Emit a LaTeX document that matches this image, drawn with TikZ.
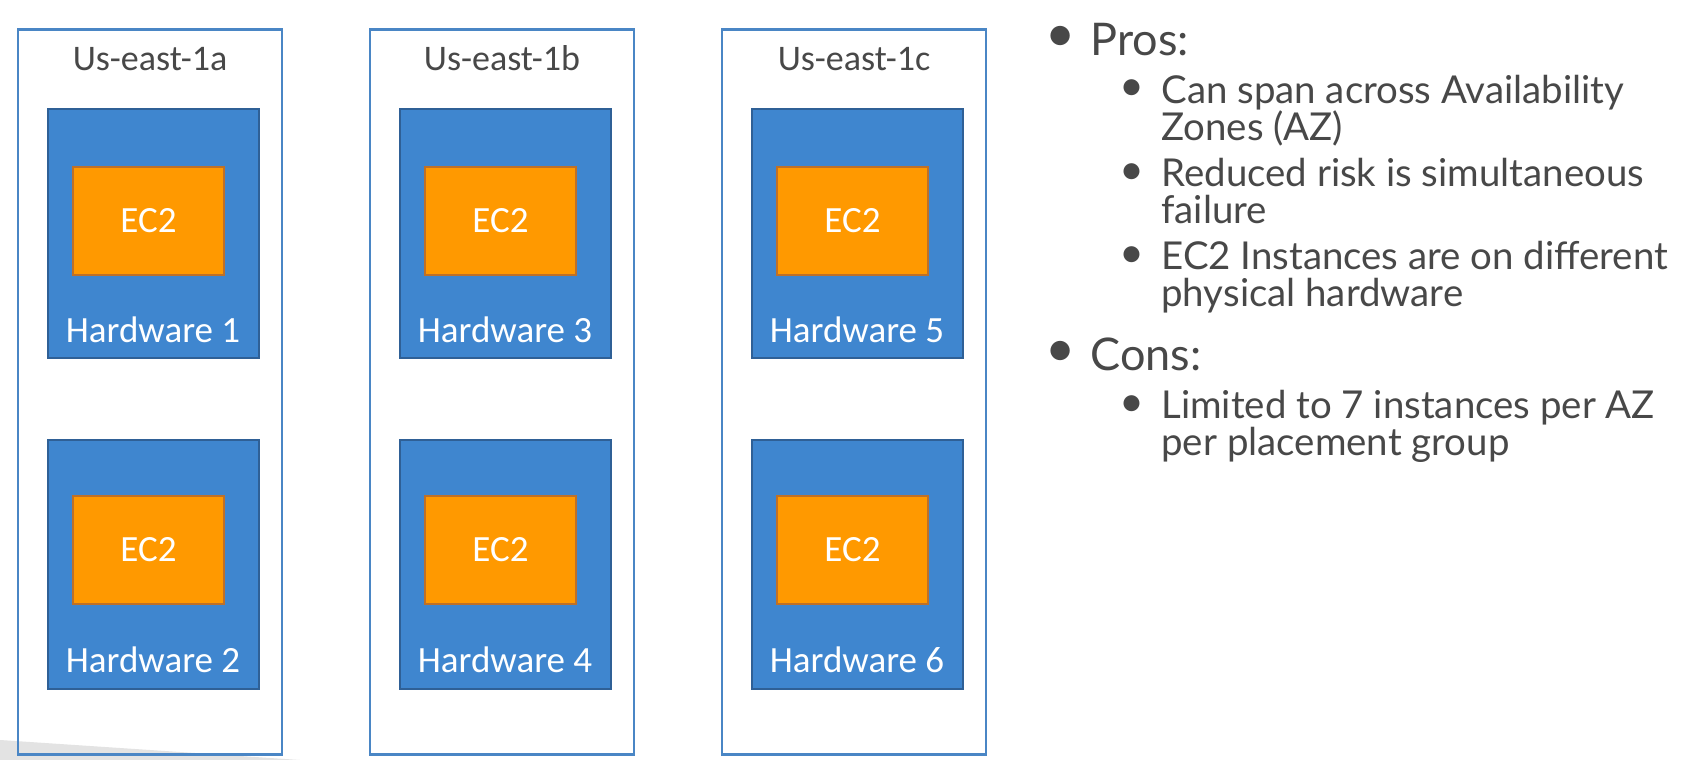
\documentclass[tikz,border=0pt]{standalone}
\usepackage{fontspec}
\setmainfont{Lato}
\newfontfamily\boxfont{Carlito}
\usetikzlibrary{positioning}

\definecolor{zoneline}{RGB}{74,134,197}
\definecolor{hwfill}{RGB}{63,134,207}
\definecolor{hwline}{RGB}{47,96,150}
\definecolor{ecfill}{RGB}{255,153,0}
\definecolor{ecline}{RGB}{190,112,40}
\definecolor{prose}{RGB}{72,72,72}

\tikzset{
  zone/.style={draw=zoneline, line width=1.2pt, minimum width=132pt,
    minimum height=362.5pt, inner sep=0pt},
  zonelabel/.style={anchor=base, text=prose, font=\boxfont\fontsize{18}{20}\selectfont},
  hardware/.style={draw=hwline, fill=hwfill, line width=1pt, minimum width=105.5pt,
    minimum height=124.5pt, inner sep=0pt},
  hwlabel/.style={anchor=base, text=white, font=\boxfont\fontsize{18.5}{20}\selectfont},
  ec2/.style={draw=ecline, fill=ecfill, line width=1pt, minimum width=75.5pt,
    minimum height=54pt, inner sep=0pt, text=white, font=\boxfont\fontsize{18.5}{20}\selectfont},
  bigdot/.style={anchor=base, inner sep=0pt, text=prose, font=\fontsize{26}{26}\selectfont},
  smalldot/.style={anchor=base, inner sep=0pt, text=prose, font=\fontsize{21.5}{22}\selectfont},
  mainitem/.style={anchor=base west, inner sep=0pt, text=prose,
    font=\fontsize{22.5}{24}\selectfont},
  subitem/.style={anchor=base west, inner sep=0pt, text=prose, align=left,
    font=\fontsize{19.2}{18.5}\selectfont}
}

\begin{document}
\begin{tikzpicture}[x=0.5pt,y=-0.5pt]
  \useasboundingbox[fill=white] (0,0) rectangle (1697,760);
  \fill[gray!22] (0,740) -- (300,760) -- (0,760) -- cycle;

  % availability zones
  \node[zone] (zone a) at (150,392) {};
  \node[zone] (zone b) at (502,392) {};
  \node[zone] (zone c) at (854,392) {};
  \node[zonelabel] (label a) at (150,70) {Us-east-1a};
  \node[zonelabel] (label b) at (502,70) {Us-east-1b};
  \node[zonelabel] (label c) at (854,70) {Us-east-1c};

  % hardware
  \node[hardware] (hw1) at (153.5,233.5) {};
  \node[hardware] (hw2) at (153.5,564)   {};
  \node[hardware] (hw3) at (505.5,233.5) {};
  \node[hardware] (hw4) at (505.5,564)   {};
  \node[hardware] (hw5) at (857.5,233.5) {};
  \node[hardware] (hw6) at (857.5,564)   {};
  \node[hwlabel] (hw1 label) at (153,342) {Hardware 1};
  \node[hwlabel] (hw2 label) at (153,672) {Hardware 2};
  \node[hwlabel] (hw3 label) at (505,342) {Hardware 3};
  \node[hwlabel] (hw4 label) at (505,672) {Hardware 4};
  \node[hwlabel] (hw5 label) at (857,342) {Hardware 5};
  \node[hwlabel] (hw6 label) at (857,672) {Hardware 6};

  % instances
  \node[ec2] (ec2 1) at (148.5,220.5) {EC2};
  \node[ec2] (ec2 2) at (148.5,550)   {EC2};
  \node[ec2] (ec2 3) at (500.5,220.5) {EC2};
  \node[ec2] (ec2 4) at (500.5,550)   {EC2};
  \node[ec2] (ec2 5) at (852.5,220.5) {EC2};
  \node[ec2] (ec2 6) at (852.5,550)   {EC2};

  % pros and cons (multi-line items sit on the baseline of their last line)
  \node[bigdot] (pros dot) at (1061,51) {•};
  \node[mainitem] (pros) at (1090,55) {Pros:};
  \node[smalldot] (span dot) at (1132,100) {•};
  \node[subitem] (span) at (1161,140) {Can span across Availability\\Zones (AZ)};
  \node[smalldot] (risk dot) at (1132,184) {•};
  \node[subitem] (risk) at (1161,223) {Reduced risk is simultaneous\\failure};
  \node[smalldot] (phys dot) at (1132,267) {•};
  \node[subitem] (phys) at (1161,306) {EC2 Instances are on different\\physical hardware};
  \node[bigdot] (cons dot) at (1061,366) {•};
  \node[mainitem] (cons) at (1090,370) {Cons:};
  \node[smalldot] (limit dot) at (1132,416) {•};
  \node[subitem] (limit) at (1161,455) {Limited to 7 instances per AZ\\per placement group};
\end{tikzpicture}
\end{document}
